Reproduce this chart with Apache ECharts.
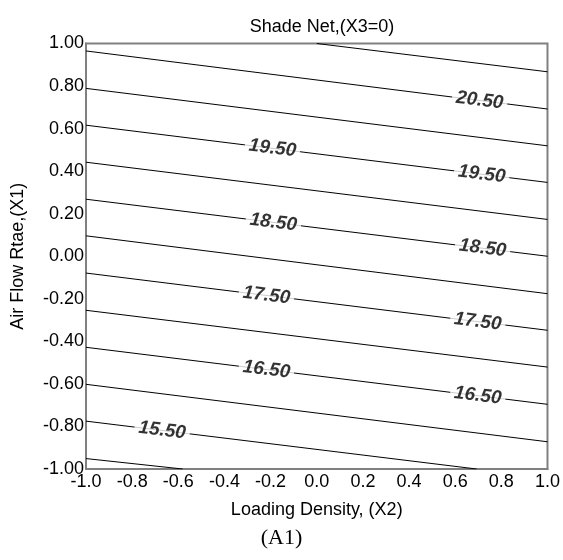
<!DOCTYPE html>
<html>
<head>
<meta charset="utf-8">
<script src="https://cdn.jsdelivr.net/npm/echarts@6/dist/echarts.min.js"></script>
<style>
html,body{margin:0;padding:0;background:#fff;}
#chart{width:563px;height:560px;}
</style>
</head>
<body>
<div id="chart"></div>
<script>
// Contour levels and line endpoints (X2 on x, X1 on y)
var levels = [15.0, 15.5, 16.0, 16.5, 17.0, 17.5, 18.0, 18.5, 19.0, 19.5, 20.0, 20.5, 21.0];
var startX = [-1, -1, -1, -1, -1, -1, -1, -1, -1, -1, -1, -1, 0.0];
var startY = [-0.951, -0.775, -0.602, -0.428, -0.254, -0.079, 0.096, 0.268, 0.442, 0.616, 0.789, 0.965, 1.0];
var endX = [-0.581, 0.693, 1, 1, 1, 1, 1, 1, 1, 1, 1, 1, 1];
var endY = [-1, -1, -0.872, -0.696, -0.521, -0.348, -0.176, 0.000, 0.173, 0.347, 0.519, 0.692, 0.867];

// Contour labels: level and X2 position along the line
var labelLevels = [15.5, 16.5, 16.5, 17.5, 17.5, 18.5, 18.5, 19.5, 19.5, 20.5];
var labelX = [-0.67, -0.218, 0.698, -0.218, 0.698, -0.188, 0.719, -0.192, 0.715, 0.706];

var xTicks = [-1.0, -0.8, -0.6, -0.4, -0.2, 0.0, 0.2, 0.4, 0.6, 0.8, 1.0];
var yTicks = [-1.0, -0.8, -0.6, -0.4, -0.2, 0.0, 0.2, 0.4, 0.6, 0.8, 1.0];

var FONT = 'Liberation Sans, Arial, sans-serif';

var series = [];
levels.forEach(function (lv, i) {
  series.push({
    type: 'line',
    name: String(lv),
    data: [[startX[i], startY[i]], [endX[i], endY[i]]],
    symbol: 'none',
    lineStyle: {color: '#000', width: 1},
    z: 2,
    silent: true
  });
});

var labelData = labelLevels.map(function (lv, k) {
  var i = levels.indexOf(lv);
  var x = labelX[k];
  var t = (x - startX[i]) / (endX[i] - startX[i]);
  var y = startY[i] + t * (endY[i] - startY[i]);
  return {value: [x, y], label: {formatter: lv.toFixed(2)}};
});

series.push({
  type: 'scatter',
  data: labelData,
  symbolSize: 1,
  itemStyle: {color: 'rgba(0,0,0,0)'},
  z: 5,
  silent: true,
  label: {
    show: true,
    position: 'inside',
    rotate: -7,
    color: '#000',
    fontSize: 19,
    fontWeight: 'bold',
    fontStyle: 'italic',
    fontFamily: FONT,
    backgroundColor: '#fff',
    padding: [0, 4]
  }
});

var chart = echarts.init(document.getElementById('chart'), null, {renderer: 'canvas'});
chart.setOption({
  animation: false,
  backgroundColor: '#fff',
  title: {
    text: 'Shade Net,(X3=0)',
    left: 317,
    textAlign: 'center',
    top: 13,
    textStyle: {fontSize: 18, fontWeight: 'normal', color: '#000', fontFamily: FONT}
  },
  grid: {
    left: 86, right: 14, top: 43.5, bottom: 91,
    show: true, borderColor: '#808080', borderWidth: 2, backgroundColor: 'transparent'
  },
  xAxis: {
    type: 'value', min: -1, max: 1, interval: 0.2,
    name: 'Loading Density, (X2)', nameLocation: 'middle', nameGap: 32,
    nameTextStyle: {fontSize: 18, color: '#000', fontFamily: FONT},
    axisLine: {show: true, onZero: false, lineStyle: {color: '#808080', width: 2}},
    axisTick: {show: false},
    splitLine: {show: false},
    axisLabel: {
      fontSize: 18, color: '#000', fontFamily: FONT, margin: 4,
      formatter: function (v) { return v.toFixed(1); }
    }
  },
  yAxis: {
    type: 'value', min: -1, max: 1, interval: 0.2,
    name: 'Air Flow Rtae,(X1)', nameLocation: 'middle', nameGap: 59,
    nameTextStyle: {fontSize: 18, color: '#000', fontFamily: FONT},
    axisLine: {show: true, onZero: false, lineStyle: {color: '#808080', width: 2}},
    axisTick: {show: false},
    splitLine: {show: false},
    axisLabel: {
      fontSize: 18, color: '#000', fontFamily: FONT, margin: 2,
      formatter: function (v) { return v.toFixed(2); }
    }
  },
  graphic: [{
    type: 'text',
    left: 'center',
    top: 527,
    style: {text: '(A1)', fontSize: 22, fontFamily: 'Liberation Serif, Times New Roman, serif', fill: '#000'}
  }],
  series: series
});
</script>
</body>
</html>
